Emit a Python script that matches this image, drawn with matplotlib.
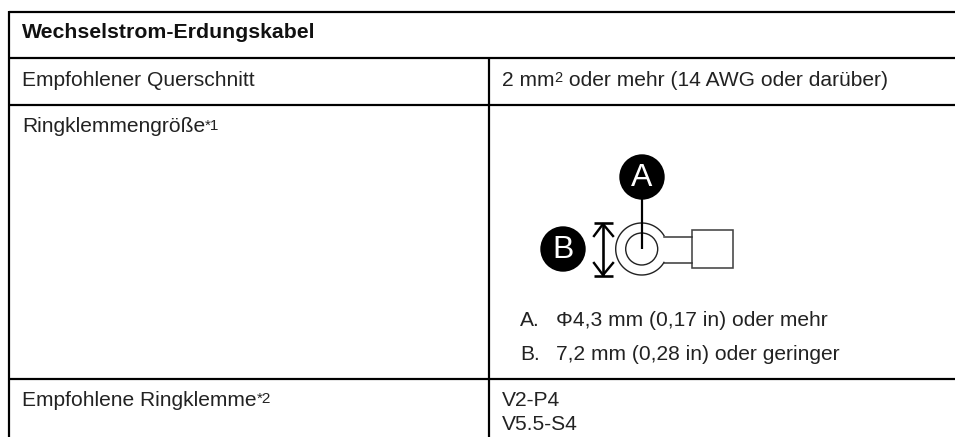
import numpy as np
import matplotlib
matplotlib.use("Agg")
import matplotlib.pyplot as plt
from matplotlib.patches import Circle, Rectangle

plt.rcParams['font.family'] = ['Liberation Sans', 'DejaVu Sans']

W, H = 955, 437

title = "Wechselstrom-Erdungskabel"
left_labels = ["Empfohlener Querschnitt", "Ringklemmengröße", "Empfohlene Ringklemme"]
left_sups = ["", "*1", "*2"]
left_y = [81, 127, 400]
section_parts = ["2 mm", "2", " oder mehr (14 AWG oder darüber)"]
list_marks = ["A.", "B."]
list_items = ["Φ4,3 mm (0,17 in) oder mehr", "7,2 mm (0,28 in) oder geringer"]
list_y = [320, 354]
terminals = ["V2-P4", "V5.5-S4"]
terminals_y = [400, 424]
row_lines = [12, 58, 105, 379]

fig = plt.figure(figsize=(W / 100, H / 100), dpi=100)
ax = fig.add_axes([0, 0, 1, 1])
ax.set_xlim(0, W)
ax.set_ylim(H, 0)
ax.set_aspect('equal')
ax.axis('off')

px = 0.72  # 1 px in points
fs = 15.1
col = '#222222'

# table grid
for y in row_lines:
    ax.plot([9, W], [y, y], color='black', lw=2.2 * px, solid_capstyle='butt')
ax.plot([9, 9], [11, H], color='black', lw=2.2 * px, solid_capstyle='butt')
ax.plot([489, 489], [58, H], color='black', lw=2.2 * px, solid_capstyle='butt')

# text
ax.text(22, 32, title, fontsize=15.35, fontweight='bold', va='center', color='#111111')
for s, sup, y in zip(left_labels, left_sups, left_y):
    t = ax.text(22, y, s, fontsize=fs, va='center', color=col)
    if sup:
        ax.annotate(sup, xy=(1, 1), xycoords=t, xytext=(0, -1), textcoords='offset points',
                    fontsize=11, va='top', color=col)

t = ax.text(502, 81, section_parts[0], fontsize=fs, va='center', color=col)
ax.annotate(section_parts[1], xy=(1, 1), xycoords=t, xytext=(0, 0), textcoords='offset points',
            fontsize=10.5, va='top', color=col)
ax.annotate(section_parts[2], xy=(1, 0), xycoords=t, xytext=(6, 0), textcoords='offset points',
            fontsize=fs, va='bottom', color=col)

for m, s, y in zip(list_marks, list_items, list_y):
    ax.text(520, y, m, fontsize=fs, va='center', color=col)
    ax.text(556, y, s, fontsize=fs, va='center', color=col)
for s, y in zip(terminals, terminals_y):
    ax.text(502, y, s, fontsize=fs, va='center', color=col)

# ring terminal
cx, cy = 641.7, 249
ang = np.radians(np.linspace(31, 329, 100))
ax.plot(cx + 26 * np.cos(ang), cy - 26 * np.sin(ang), color='#222222', lw=1.4 * px)
ax.add_patch(Circle((cx, cy), 16, fill=False, ec='#222222', lw=1.4 * px))
ax.plot([664, 692], [236.5, 236.5], color='#333333', lw=1.5 * px)
ax.plot([664, 692], [262.5, 262.5], color='#333333', lw=1.5 * px)
ax.add_patch(Rectangle((692, 230), 41, 38, fill=False, ec='#444444', lw=1.6 * px))

# callouts
ax.add_patch(Circle((642, 177), 22.7, color='black', lw=0))
ax.text(642, 178, "A", color='white', fontsize=23, ha='center', va='center')
ax.plot([642, 642], [177, 249], color='black', lw=2.2 * px, solid_capstyle='butt')
ax.add_patch(Circle((563, 249), 22.7, color='black', lw=0))
ax.text(563, 250, "B", color='white', fontsize=23, ha='center', va='center')

# dimension arrow
ax.plot([603, 603], [223, 276], color='black', lw=2.6 * px, solid_capstyle='butt')
ax.plot([594, 613], [223, 223], color='black', lw=2.6 * px, solid_capstyle='butt')
ax.plot([594, 613], [276, 276], color='black', lw=2.6 * px, solid_capstyle='butt')
ax.plot([594, 603, 613], [236, 224, 236], color='black', lw=2.4 * px)
ax.plot([594, 603, 613], [263, 275, 263], color='black', lw=2.4 * px)

fig.savefig("out.png", dpi=100)
